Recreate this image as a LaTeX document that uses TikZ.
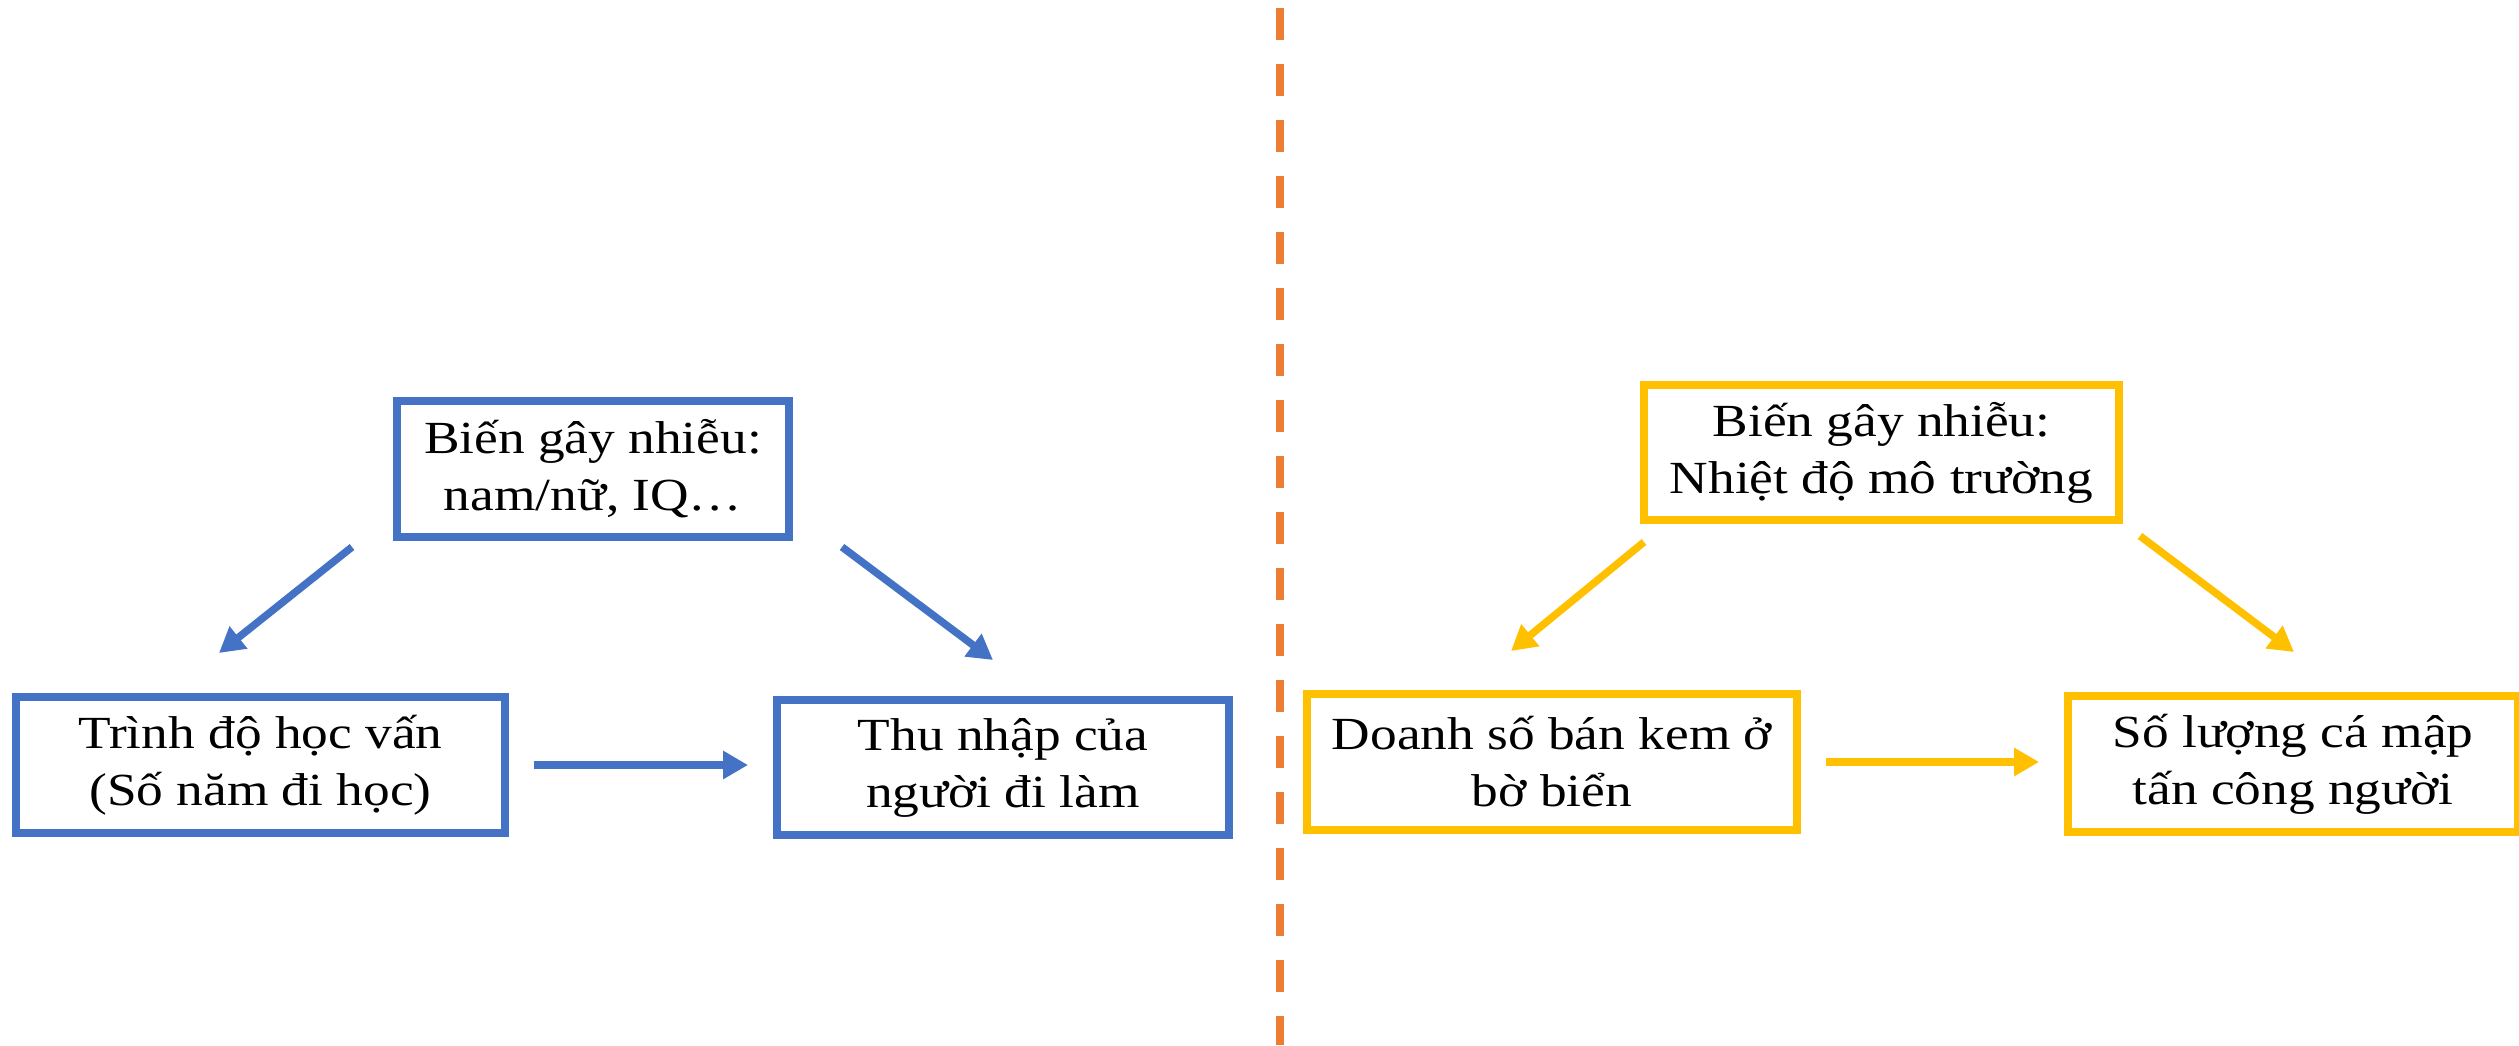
\documentclass[tikz,border=0pt]{standalone}
\usepackage{fontspec}
\setmainfont[FakeStretch=1.16]{Liberation Serif}
\usetikzlibrary{arrows.meta}
\definecolor{cblue}{HTML}{4472C4}
\definecolor{cyellow}{HTML}{FFC000}
\definecolor{corange}{HTML}{ED7D31}
\tikzset{
  box/.style={draw, line width=8pt, inner sep=0pt, align=center,
    font=\fontsize{46}{57}\selectfont, text=black},
  bbox/.style={box, draw=cblue},
  ybox/.style={box, draw=cyellow},
  arr/.style={line width=7.5pt, -{Triangle[length=25pt,width=27pt]}},
  barr/.style={arr, draw=cblue, fill=cblue},
  yarr/.style={arr, draw=cyellow, fill=cyellow},
  divider/.style={draw=corange, line width=8pt, dash pattern=on 32pt off 24pt}
}
\begin{document}
\begin{tikzpicture}[x=1pt,y=-1pt]
\useasboundingbox (0,0) rectangle (2519,1045);
% divider
\coordinate (dtop) at (1280,8);
\coordinate (dbot) at (1280,1045);
\draw[divider] (dtop) -- (dbot);
% blue side
\node[bbox, minimum width=392pt, minimum height=136pt] (topB) at (593,469) {Biến gây nhiễu:\\nam/nữ, IQ…};
\node[bbox, minimum width=489pt, minimum height=136pt] (leftB) at (260.5,765) {Trình độ học vấn\\(Số năm đi học)};
\node[bbox, minimum width=452pt, minimum height=135pt] (rightB) at (1003,767.5) {Thu nhập của\\người đi làm};
\coordinate (b1s) at (352,547);
\coordinate (b1e) at (219,653);
\coordinate (b2s) at (842,547);
\coordinate (b2e) at (993,660);
\coordinate (b3s) at (534,765);
\coordinate (b3e) at (748,765);
\draw[barr] (b1s) -- (b1e);
\draw[barr] (b2s) -- (b2e);
\draw[barr] (b3s) -- (b3e);
% yellow side
\node[ybox, minimum width=475pt, minimum height=135pt] (topY) at (1881.5,452.5) {Biến gây nhiễu:\\Nhiệt độ mô trường};
\node[ybox, minimum width=490pt, minimum height=136pt] (leftY) at (1552,762) {Doanh số bán kem ở\\bờ biển};
\node[ybox, minimum width=450pt, minimum height=136pt] (rightY) at (2293,764) {Số lượng cá mập\\tấn công người};
\coordinate (y1s) at (1644,542);
\coordinate (y1e) at (1511,651);
\coordinate (y2s) at (2140,536);
\coordinate (y2e) at (2294,652);
\coordinate (y3s) at (1826,762);
\coordinate (y3e) at (2039,762);
\draw[yarr] (y1s) -- (y1e);
\draw[yarr] (y2s) -- (y2e);
\draw[yarr] (y3s) -- (y3e);
\end{tikzpicture}
\end{document}
